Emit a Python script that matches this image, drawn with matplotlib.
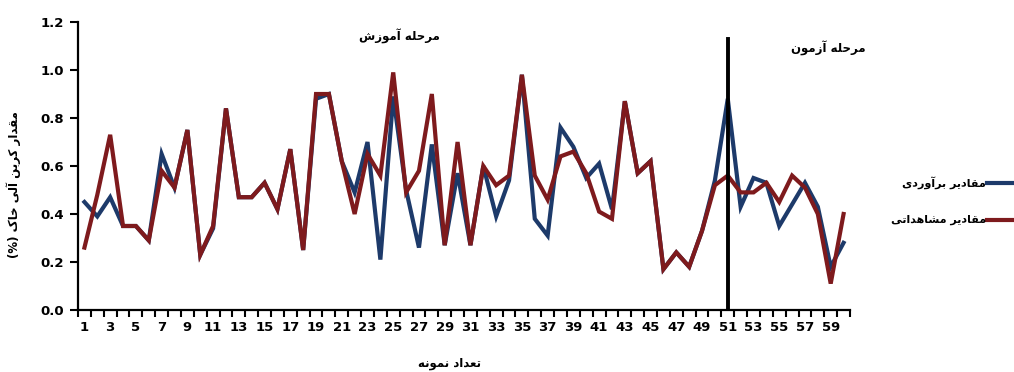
import numpy as np
import matplotlib
matplotlib.use("Agg")
import matplotlib.pyplot as plt

# sample number 1..60
samples = np.arange(1, 61)

estimated = [0.45, 0.39, 0.47, 0.35, 0.35, 0.29, 0.65, 0.51, 0.75, 0.23,
             0.34, 0.84, 0.47, 0.47, 0.53, 0.42, 0.67, 0.25, 0.88, 0.90,
             0.62, 0.49, 0.70, 0.21, 0.89, 0.50, 0.26, 0.69, 0.27, 0.57,
             0.27, 0.60, 0.39, 0.54, 0.98, 0.38, 0.31, 0.76, 0.68, 0.55,
             0.61, 0.42, 0.87, 0.57, 0.62, 0.17, 0.24, 0.18, 0.33, 0.54,
             0.88, 0.43, 0.55, 0.53, 0.35, 0.44, 0.53, 0.43, 0.18, 0.28]

observed = [0.26, 0.48, 0.73, 0.35, 0.35, 0.29, 0.58, 0.51, 0.75, 0.23,
            0.35, 0.84, 0.47, 0.47, 0.53, 0.42, 0.67, 0.25, 0.90, 0.90,
            0.62, 0.40, 0.65, 0.56, 0.99, 0.49, 0.58, 0.90, 0.27, 0.70,
            0.27, 0.60, 0.52, 0.56, 0.98, 0.56, 0.46, 0.64, 0.66, 0.57,
            0.41, 0.38, 0.87, 0.57, 0.62, 0.17, 0.24, 0.18, 0.33, 0.52,
            0.56, 0.49, 0.49, 0.53, 0.45, 0.56, 0.51, 0.40, 0.11, 0.40]

split_sample = 51
y_ticks = [0.0, 0.2, 0.4, 0.6, 0.8, 1.0, 1.2]
x_labels = list(range(1, 60, 2))

# --- tiny Persian shaper (matplotlib has no Arabic joining) ---
FORMS = {
    'ا': ('\uFE8D', '\uFE8E'), 'آ': ('\uFE81', '\uFE82'),
    'د': ('\uFEA9', '\uFEAA'), 'ر': ('\uFEAD', '\uFEAE'),
    'ز': ('\uFEAF', '\uFEB0'), 'و': ('\uFEED', '\uFEEE'),
    'ب': ('\uFE8F', '\uFE90', '\uFE91', '\uFE92'),
    'ت': ('\uFE95', '\uFE96', '\uFE97', '\uFE98'),
    'ح': ('\uFEA1', '\uFEA2', '\uFEA3', '\uFEA4'),
    'خ': ('\uFEA5', '\uFEA6', '\uFEA7', '\uFEA8'),
    'ش': ('\uFEB5', '\uFEB6', '\uFEB7', '\uFEB8'),
    'ع': ('\uFEC9', '\uFECA', '\uFECB', '\uFECC'),
    'ق': ('\uFED5', '\uFED6', '\uFED7', '\uFED8'),
    'ک': ('\uFB8E', '\uFB8F', '\uFB90', '\uFB91'),
    'ل': ('\uFEDD', '\uFEDE', '\uFEDF', '\uFEE0'),
    'م': ('\uFEE1', '\uFEE2', '\uFEE3', '\uFEE4'),
    'ن': ('\uFEE5', '\uFEE6', '\uFEE7', '\uFEE8'),
    'ه': ('\uFEE9', '\uFEEA', '\uFEEB', '\uFEEC'),
    'ی': ('\uFBFC', '\uFBFD', '\uFBFE', '\uFBFF'),
}


def fa(text):
    out = []
    for i, ch in enumerate(text):
        f = FORMS.get(ch)
        if f is None:
            out.append(ch)
            continue
        prev = text[i - 1] if i > 0 else ''
        nxt = text[i + 1] if i + 1 < len(text) else ''
        join_prev = prev in FORMS and len(FORMS[prev]) == 4
        join_next = len(f) == 4 and nxt in FORMS
        if join_prev and join_next:
            out.append(f[3])
        elif join_prev:
            out.append(f[1])
        elif join_next:
            out.append(f[2])
        else:
            out.append(f[0])
    return ''.join(reversed(out))


blue = '#1d3a6a'
red = '#7e1a1d'
fa_font = dict(family=['DejaVu Sans'], fontweight='bold')

plt.rcParams['font.family'] = ['DejaVu Sans']

fig = plt.figure(figsize=(10.14, 3.72), dpi=100)
ax = fig.add_axes([78 / 1014, 1 - 310 / 372, (850 - 78) / 1014, (310 - 22) / 372])

ax.plot(samples, estimated, color=blue, lw=3.0, solid_joinstyle='miter')
ax.plot(samples, observed, color=red, lw=3.0, solid_joinstyle='miter')
ax.plot([split_sample, split_sample], [0, 1.13], color='black', lw=2.8)

ax.set_xlim(0.5, 60.5)
ax.set_ylim(0, 1.2)
ax.set_yticks(y_ticks)
ax.set_yticklabels([f'{v:.1f}' for v in y_ticks], fontsize=9.5, fontweight='bold')
ax.set_xticks(np.arange(0.5, 61, 1))
ax.set_xticklabels([])
ax.set_xticks(x_labels, minor=True)
ax.set_xticklabels([str(v) for v in x_labels], minor=True, fontsize=9.5, fontweight='bold')
ax.tick_params(axis='x', which='major', length=5, width=1.5, direction='out')
ax.tick_params(axis='x', which='minor', length=0, pad=8)
ax.tick_params(axis='y', length=6, width=1.5, direction='out', pad=4)

for side in ('top', 'right'):
    ax.spines[side].set_visible(False)
for side in ('left', 'bottom'):
    ax.spines[side].set_linewidth(1.6)

ax.text(25.5, 1.14, fa('مرحله آموزش'), ha='center', va='center', fontsize=8.5, **fa_font)
ax.text(58.8, 1.09, fa('مرحله آزمون'), ha='center', va='center', fontsize=8.5, **fa_font)

fig.text(14 / 1014, 1 - 185 / 372, '(%) ' + fa('مقدار کربن آلی خاک'),
         rotation=90, ha='center', va='center', fontsize=8.5, **fa_font)
fig.text(449 / 1014, 1 - 363 / 372, fa('تعداد نمونه'), ha='center', va='center',
         fontsize=8.5, **fa_font)

# legend, drawn by hand at the right edge
for ypix, col, name in [(183, blue, 'مقادیر برآوردی'), (220, red, 'مقادیر مشاهداتی')]:
    yf = 1 - ypix / 372
    fig.add_artist(plt.Line2D([987 / 1014, 1012 / 1014], [yf, yf], color=col, lw=3.0,
                              transform=fig.transFigure))
    fig.text(986 / 1014, yf, fa(name), ha='right', va='center', fontsize=8, **fa_font)

fig.savefig('out.png', dpi=100, facecolor='white')
